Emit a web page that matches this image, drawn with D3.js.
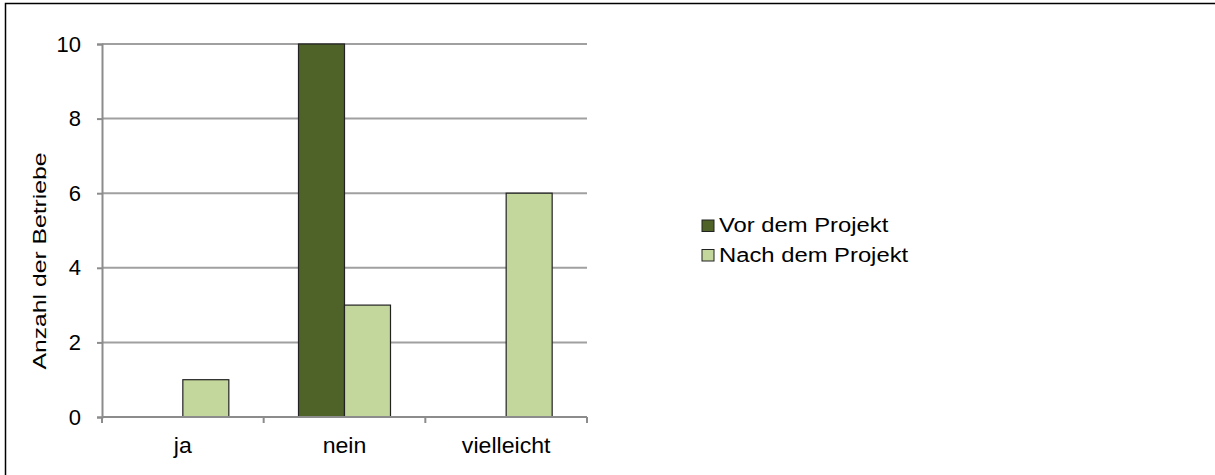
<!DOCTYPE html>
<html>
<head>
<meta charset="utf-8">
<script src="https://cdn.jsdelivr.net/npm/d3@7"></script>
<style>
  body { margin: 0; background: #fff; }
  svg text { font-family: "Liberation Sans", Arial, sans-serif; fill: #000; }
</style>
</head>
<body>
<svg id="chart" width="1215" height="475"></svg>
<script>
var categories = ['ja', 'nein', 'vielleicht'];
var seriesNames = ['Vor dem Projekt', 'Nach dem Projekt'];
var vorValues = [0, 10, 0];
var nachValues = [1, 3, 6];
var yTicks = [0, 2, 4, 6, 8, 10];
var colors = ['#4f6228', '#c3d69b'];

var svg = d3.select('#chart');

// widen text a bit, the reference font renders wider than Liberation Sans
function stretch(sel, factor) {
  sel.each(function() {
    var w = this.getComputedTextLength();
    d3.select(this).attr('textLength', w * factor).attr('lengthAdjust', 'spacingAndGlyphs');
  });
}

// outer frame
svg.append('path')
  .attr('d', 'M5.5,475 L5.5,3.5 L1215,3.5')
  .attr('fill', 'none')
  .attr('stroke', '#000')
  .attr('stroke-width', 1.5);

var plotLeft = 102, plotRight = 587, plotTop = 44, plotBottom = 417;

var x = d3.scaleBand().domain(categories).range([plotLeft, plotRight]);
var y = d3.scaleLinear().domain([0, 10]).range([plotBottom, plotTop]);
var sub = d3.scaleBand().domain(seriesNames).range([0, 92]);

// gridlines
svg.append('g')
  .selectAll('line')
  .data(yTicks.filter(d => d > 0))
  .enter().append('line')
  .attr('x1', plotLeft).attr('x2', plotRight)
  .attr('y1', d => y(d)).attr('y2', d => y(d))
  .attr('stroke', '#a0a0a0')
  .attr('stroke-width', 2);

// y axis
var yAxis = svg.append('g')
  .attr('transform', 'translate(' + plotLeft + ',0)')
  .call(d3.axisLeft(y).tickValues(yTicks).tickSize(5).tickPadding(16));
yAxis.select('.domain').attr('stroke', '#8c8c8c').attr('stroke-width', 2);
yAxis.selectAll('.tick line').attr('stroke', '#8c8c8c').attr('stroke-width', 2);
yAxis.selectAll('text').attr('font-family', null).style('font-size', '22px').attr('fill', '#000');

// bars
var data = categories.map(function(c, i) {
  return [{cat: c, s: seriesNames[0], v: vorValues[i]}, {cat: c, s: seriesNames[1], v: nachValues[i]}];
});
var groups = svg.append('g').selectAll('g')
  .data(data)
  .enter().append('g')
  .attr('transform', d => 'translate(' + (x(d[0].cat) + x.bandwidth() / 2 - 46) + ',0)');
groups.selectAll('rect')
  .data(d => d.filter(e => e.v > 0))
  .enter().append('rect')
  .attr('x', d => sub(d.s))
  .attr('y', d => y(d.v))
  .attr('width', sub.bandwidth())
  .attr('height', d => y(0) - y(d.v))
  .attr('fill', d => colors[seriesNames.indexOf(d.s)])
  .attr('stroke', '#222')
  .attr('stroke-width', 1.2);

// x axis
var xAxis = svg.append('g')
  .attr('transform', 'translate(0,' + plotBottom + ')');
xAxis.append('line')
  .attr('x1', plotLeft).attr('x2', plotRight)
  .attr('y1', 0).attr('y2', 0)
  .attr('stroke', '#8c8c8c').attr('stroke-width', 2);
var edges = categories.map(c => x(c)).concat([plotRight]);
xAxis.selectAll('.tk')
  .data(edges)
  .enter().append('line')
  .attr('x1', d => d).attr('x2', d => d)
  .attr('y1', 0).attr('y2', 6)
  .attr('stroke', '#8c8c8c').attr('stroke-width', 2);
xAxis.selectAll('text')
  .data(categories)
  .enter().append('text')
  .attr('x', d => x(d) + x.bandwidth() / 2)
  .attr('y', 36)
  .attr('text-anchor', 'middle')
  .style('font-size', '22px')
  .text(d => d)
  .call(stretch, 1.05);

// y label
svg.append('text')
  .attr('transform', 'translate(46,261) rotate(-90)')
  .attr('text-anchor', 'middle')
  .style('font-size', '19px')
  .text('Anzahl der Betriebe')
  .call(stretch, 1.3);

// legend
var legend = svg.append('g').attr('transform', 'translate(702,220)');
var items = legend.selectAll('g')
  .data(seriesNames)
  .enter().append('g')
  .attr('transform', (d, i) => 'translate(0,' + (i * 29.5) + ')');
items.append('rect')
  .attr('width', 12).attr('height', 11.5)
  .attr('fill', (d, i) => colors[i])
  .attr('stroke', '#222').attr('stroke-width', 1);
items.append('text')
  .attr('x', 17).attr('y', 12)
  .style('font-size', '20px')
  .text(d => d)
  .call(stretch, 1.19);
</script>
</body>
</html>
